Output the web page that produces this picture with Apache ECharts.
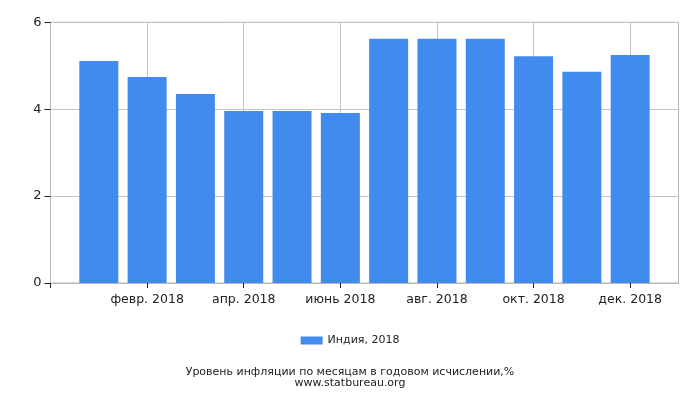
<!DOCTYPE html>
<html><head><meta charset="utf-8">
<script src="https://cdn.jsdelivr.net/npm/echarts@6/dist/echarts.min.js"></script>
<style>html,body{margin:0;padding:0;background:#fff}#c{width:700px;height:400px}</style>
</head><body><div id="c"></div>
<script>
// Months on the axis (first and last are padding slots at the plot edges)
const categories = ['дек. 2017','янв. 2018','февр. 2018','март 2018','апр. 2018','май 2018','июнь 2018','июль 2018','авг. 2018','сент. 2018','окт. 2018','нояб. 2018','дек. 2018','янв. 2019'];
const shownLabels = ['февр. 2018','апр. 2018','июнь 2018','авг. 2018','окт. 2018','дек. 2018'];
const seriesName = 'Индия, 2018';
const values = [5.11, 4.74, 4.35, 3.96, 3.96, 3.91, 5.62, 5.62, 5.62, 5.22, 4.86, 5.25];
const yTicks = [0, 2, 4, 6];
const titleLines = ['Уровень инфляции по месяцам в годовом исчислении,%', 'www.statbureau.org'];

const barData = ['-'].concat(values).concat(['-']);
const font = 'DejaVu Sans';
const chart = echarts.init(document.getElementById('c'), null, {renderer:'canvas'});
chart.setOption({
  animation: false,
  textStyle: {fontFamily: font},
  grid: {left: 50.5, right: 21.5, top: 22.3, bottom: 117, show: true, borderColor: '#b8b8b8', borderWidth: 1},
  legend: {
    data: [seriesName], bottom: 49, left: 'center', itemWidth: 22, itemHeight: 8, itemGap: 4,
    textStyle: {fontFamily: font, fontSize: 11, color: '#222'}, icon: 'rect'
  },
  title: {
    text: titleLines.join('\n'), left: 'center', bottom: 6,
    textStyle: {fontFamily: font, fontSize: 11, fontWeight: 'normal', color: '#222', lineHeight: 11.5}
  },
  xAxis: {
    type: 'category', data: categories, boundaryGap: false,
    axisLine: {lineStyle: {color: '#b8b8b8'}},
    axisTick: {show: true, interval: 1, length: 5, lineStyle: {color: '#222'}},
    axisLabel: {interval: 1, color: '#222', fontSize: 12.5, fontFamily: font, margin: 10,
      formatter: v => shownLabels.indexOf(v) >= 0 ? v : ''},
    splitLine: {show: true, interval: 1, lineStyle: {color: '#c4c4c4'}}
  },
  yAxis: {
    type: 'value', min: yTicks[0], max: yTicks[yTicks.length-1], interval: 2,
    axisLine: {show: true, lineStyle: {color: '#b8b8b8'}},
    axisTick: {show: true, length: 6, lineStyle: {color: '#222'}},
    axisLabel: {color: '#222', fontSize: 13, fontFamily: font, margin: 9},
    splitLine: {lineStyle: {color: '#c4c4c4'}}
  },
  series: [{
    name: seriesName, type: 'bar', data: barData, barWidth: 39,
    itemStyle: {color: '#428bee'}
  }]
});
</script></body></html>
